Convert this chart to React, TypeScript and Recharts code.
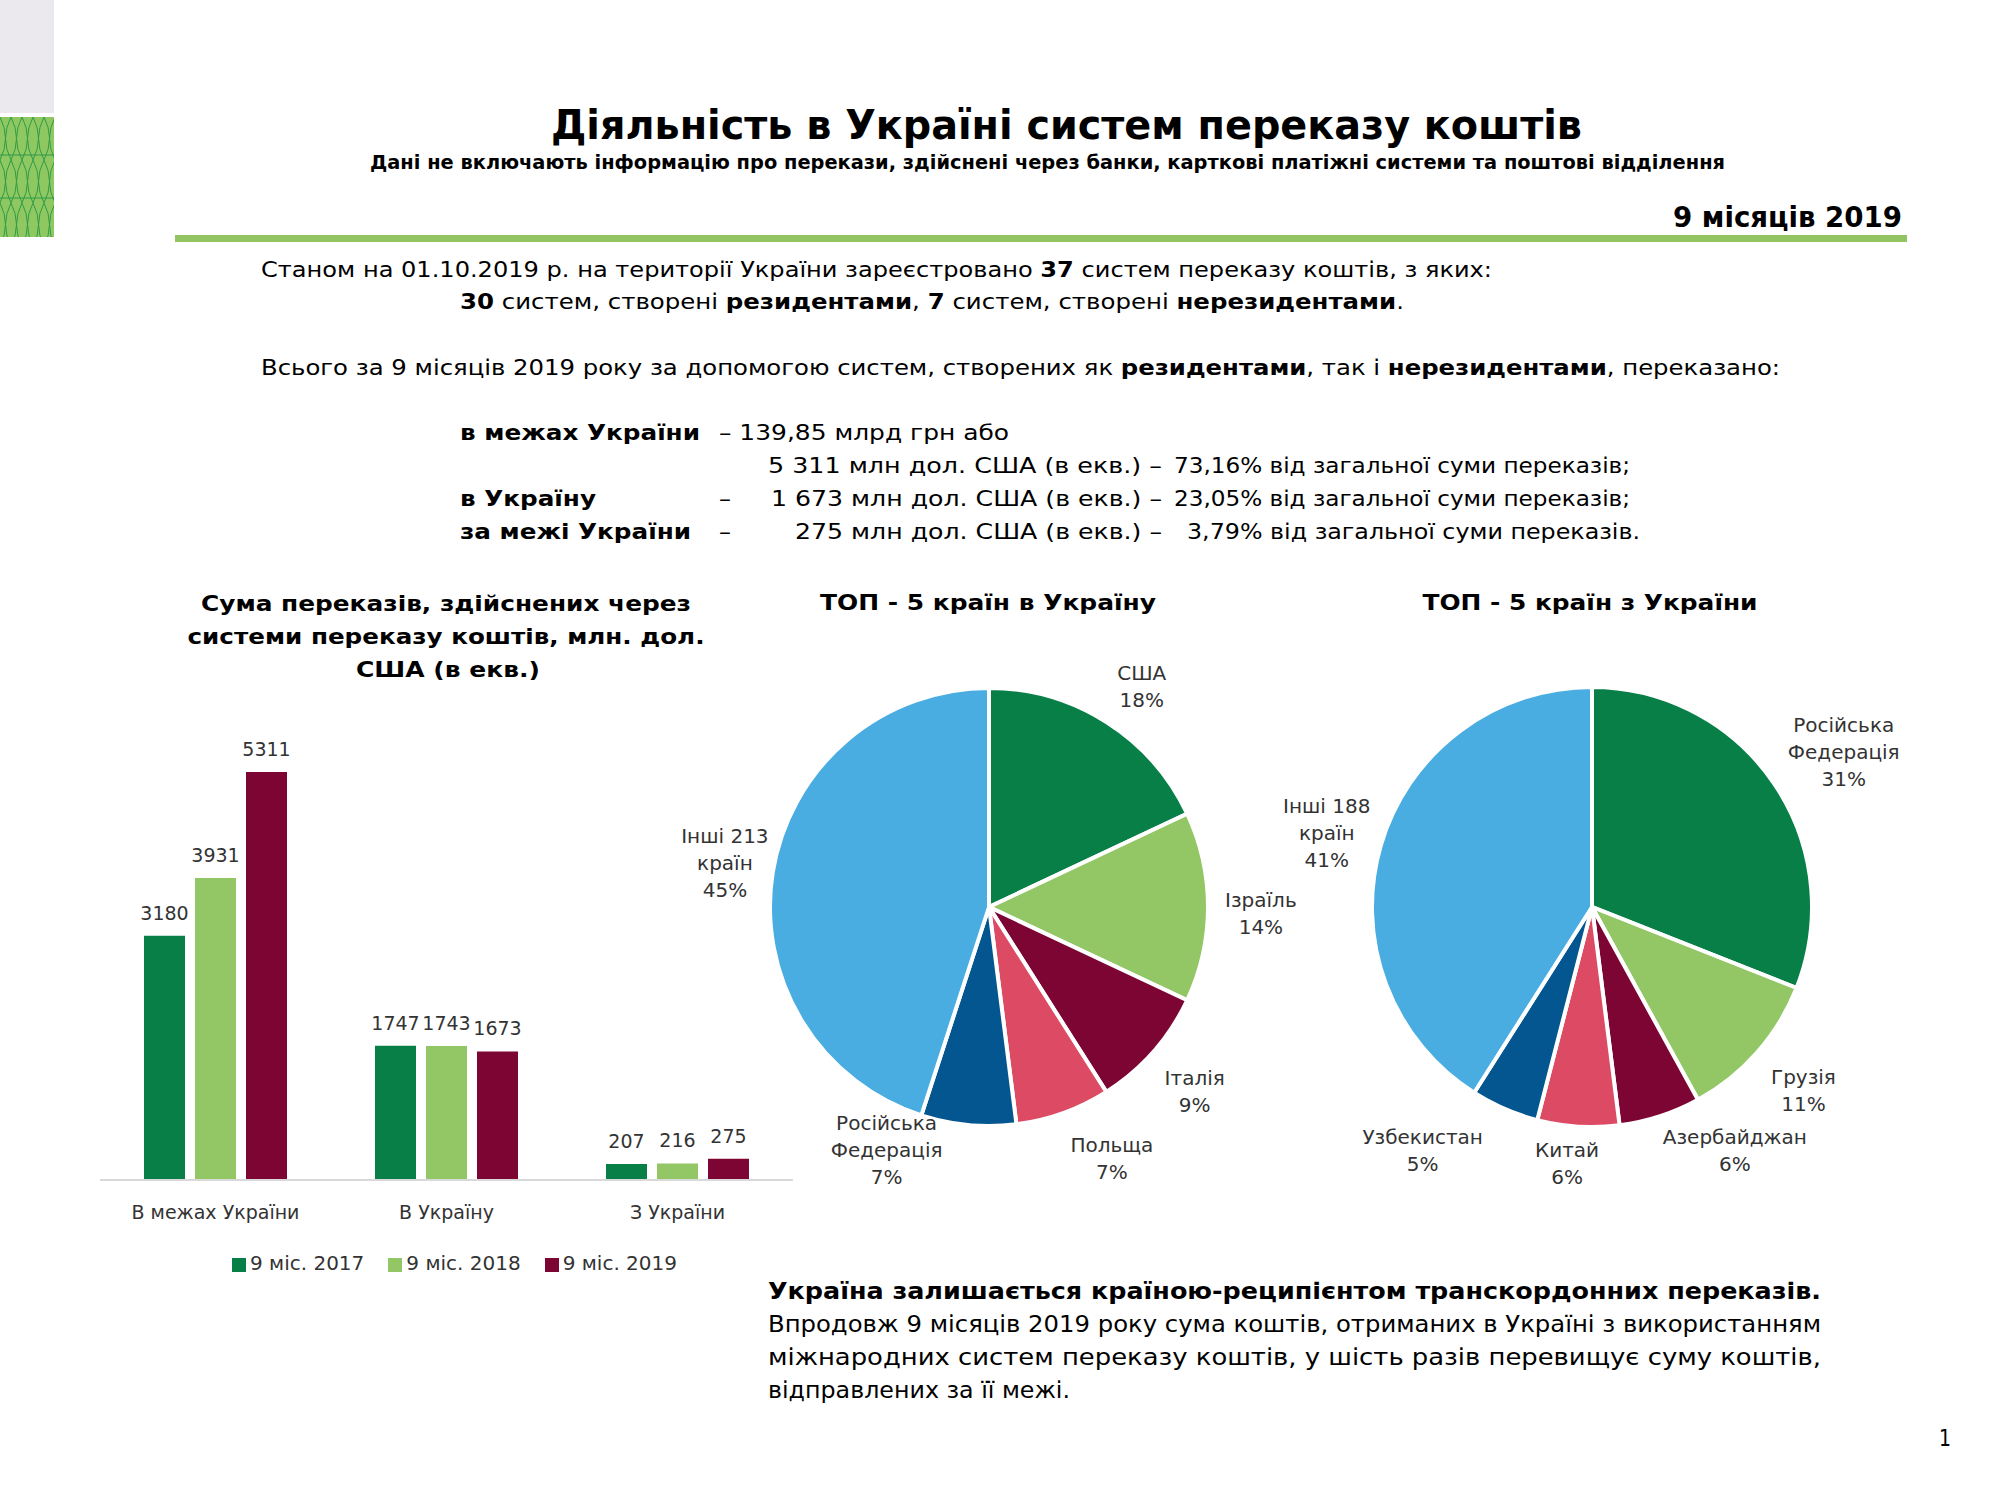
import { BarChart, Bar, XAxis, YAxis, Legend, LabelList, PieChart, Pie, Cell } from 'recharts'

// bar chart: transfers, mln USD (equiv.)
const categories = ['В межах України', 'В Україну', 'З України']
const seriesNames = ['9 міс. 2017', '9 міс. 2018', '9 міс. 2019']
const values2017 = [3180, 1747, 207]
const values2018 = [3931, 1743, 216]
const values2019 = [5311, 1673, 275]

// top-5 countries into Ukraine, %
const inCountries = ['США', 'Ізраїль', 'Італія', 'Польща', 'Російська\nФедерація', 'Інші 213\nкраїн']
const inShares = [18, 14, 9, 7, 7, 45]

// top-5 countries out of Ukraine, %
const outCountries = ['Російська\nФедерація', 'Грузія', 'Азербайджан', 'Китай', 'Узбекистан', 'Інші 188\nкраїн']
const outShares = [31, 11, 6, 6, 5, 41]

const DARK_GREEN = '#087f47'
const LIGHT_GREEN = '#93c664'
const MAROON = '#7c0533'
const PINK = '#dc4a63'
const DARK_BLUE = '#03568f'
const LIGHT_BLUE = '#49ade2'
const barColors = [DARK_GREEN, LIGHT_GREEN, MAROON]
const sliceColors = [DARK_GREEN, LIGHT_GREEN, MAROON, PINK, DARK_BLUE, LIGHT_BLUE]

const FONT = '"DejaVu Sans", sans-serif'
const LABEL = '#333333'
const PIE_FONT = 20
const PIE_LINE = 27
const RAD = Math.PI / 180

const barData = categories.map((c, i) => ({
  category: c,
  y2017: values2017[i],
  y2018: values2018[i],
  y2019: values2019[i],
}))
const inData = inCountries.map((c, i) => ({ country: c, share: inShares[i] }))
const outData = outCountries.map((c, i) => ({ country: c, share: outShares[i] }))

// small label shifts, like Excel's best-fit placement
const inNudge: [number, number][] = [[15, 5], [-8, 6], [0, 8], [30, 0], [-75, -36], [18, 0]]
const outNudge: [number, number][] = [[10, 3], [5, 6], [49, -12], [-8, -11], [-51, -3], [10, 4]]

function pieLabel(nudge: [number, number][]) {
  return (props: any) => {
    const { cx, cy, midAngle, outerRadius, name, value, index } = props
    const lines = [...String(name).split('\n'), `${value}%`]
    const cos = Math.cos(-midAngle * RAD)
    const sin = Math.sin(-midAngle * RAD)
    const w = Math.max(...lines.map((l) => l.length)) * 0.57 * PIE_FONT
    const h = lines.length * PIE_LINE
    const r = outerRadius + 21
    const [nx, ny] = nudge[index] ?? [0, 0]
    const x = cx + r * cos + (cos * w) / 2 + nx
    const y = cy + r * sin + (sin * h) / 2 + ny
    const top = y - h / 2
    return (
      <text x={x} y={top} fill={LABEL} fontSize={PIE_FONT} textAnchor="middle">
        {lines.map((l, i) => (
          <tspan key={i} x={x} y={top + PIE_LINE * (i + 0.5) + PIE_FONT * 0.36}>
            {l}
          </tspan>
        ))}
      </text>
    )
  }
}

function Txt({ x, y, w, size, bold, anchor, children }: any) {
  return (
    <text
      x={x}
      y={y}
      fontSize={size}
      fontWeight={bold ? 'bold' : 'normal'}
      textAnchor={anchor ?? 'start'}
      textLength={w}
      lengthAdjust="spacingAndGlyphs"
      fill="#000"
    >
      {children}
    </text>
  )
}

function Page() {
  return (
    <svg width={2000} height={1500} style={{ position: 'absolute', left: 0, top: 0, fontFamily: FONT }}>
      <defs>
        <pattern id="lattice" x={0} y={117} width={11} height={43} patternUnits="userSpaceOnUse">
          <path d="M0,0 Q11,21.5 0,43 M11,0 Q0,21.5 11,43" fill="none" stroke="#2e9a48" strokeWidth={1} />
        </pattern>
      </defs>
      <rect x={0} y={0} width={54} height={113} fill="#ebe8ee" />
      <rect x={0} y={117} width={54} height={120} fill="#8fc760" />
      <rect x={0} y={117} width={54} height={120} fill="url(#lattice)" />
      <line x1={0} x2={54} y1={155} y2={155} stroke="#2e9a48" />
      <line x1={0} x2={54} y1={198} y2={198} stroke="#2e9a48" />

      <Txt x={551} y={139} w={1031} size={40} bold>Діяльність в Україні систем переказу коштів</Txt>
      <Txt x={370} y={169} w={1355} size={19} bold>
        Дані не включають інформацію про перекази, здійснені через банки, карткові платіжні системи та поштові відділення
      </Txt>
      <Txt x={1673} y={227} w={229} size={28} bold>9 місяців 2019</Txt>
      <rect x={175} y={235} width={1732} height={7} fill="#92c562" />

      <Txt x={261} y={277} w={1231} size={21}>
        Станом на 01.10.2019 р. на території України зареєстровано <tspan fontWeight="bold">37</tspan> систем переказу коштів, з яких:
      </Txt>
      <Txt x={460} y={309} w={944} size={21}>
        <tspan fontWeight="bold">30</tspan> систем, створені <tspan fontWeight="bold">резидентами</tspan>, <tspan fontWeight="bold">7</tspan> систем, створені <tspan fontWeight="bold">нерезидентами</tspan>.
      </Txt>
      <Txt x={261} y={375} w={1519} size={21}>
        Всього за 9 місяців 2019 року за допомогою систем, створених як <tspan fontWeight="bold">резидентами</tspan>, так і <tspan fontWeight="bold">нерезидентами</tspan>, переказано:
      </Txt>

      <Txt x={460} y={440} w={240} size={21} bold>в межах України</Txt>
      <Txt x={719} y={440} w={290} size={21}>– 139,85 млрд грн або</Txt>
      <Txt x={768} y={473} w={394} size={21}>5 311 млн дол. США (в екв.) –</Txt>
      <Txt x={1174} y={473} w={456} size={21}>73,16% від загальної суми переказів;</Txt>
      <Txt x={460} y={506} w={136} size={21} bold>в Україну</Txt>
      <Txt x={719} y={506} w={12} size={21}>–</Txt>
      <Txt x={771} y={506} w={391} size={21}>1 673 млн дол. США (в екв.) –</Txt>
      <Txt x={1174} y={506} w={456} size={21}>23,05% від загальної суми переказів;</Txt>
      <Txt x={460} y={539} w={231} size={21} bold>за межі України</Txt>
      <Txt x={719} y={539} w={12} size={21}>–</Txt>
      <Txt x={795} y={539} w={367} size={21}>275 млн дол. США (в екв.) –</Txt>
      <Txt x={1187} y={539} w={453} size={21}>3,79% від загальної суми переказів.</Txt>

      <Txt x={446} y={611} w={490} size={22} bold anchor="middle">Сума переказів, здійснених через</Txt>
      <Txt x={446} y={644} w={517} size={22} bold anchor="middle">системи переказу коштів, млн. дол.</Txt>
      <Txt x={448} y={677} w={184} size={22} bold anchor="middle">США (в екв.)</Txt>
      <Txt x={988} y={610} w={336} size={22} bold anchor="middle">ТОП - 5 країн в Україну</Txt>
      <Txt x={1590} y={610} w={335} size={22} bold anchor="middle">ТОП - 5 країн з України</Txt>

      <Txt x={768} y={1299} w={1053} size={23} bold>Україна залишається країною-реципієнтом транскордонних переказів.</Txt>
      <Txt x={768} y={1332} w={1053} size={23}>Впродовж 9 місяців 2019 року сума коштів, отриманих в Україні з використанням</Txt>
      <Txt x={768} y={1365} w={1053} size={23}>міжнародних систем переказу коштів, у шість разів перевищує суму коштів,</Txt>
      <Txt x={768} y={1398} w={302} size={23}>відправлених за її межі.</Txt>
      <Txt x={1939} y={1446} w={12} size={23}>1</Txt>
    </svg>
  )
}

export default function App() {
  return (
    <div style={{ position: 'absolute', left: 0, top: 0, width: 2000, height: 1500, background: '#fff', fontFamily: FONT }}>
      <Page />
      <div style={{ position: 'absolute', left: 80, top: 680 }}>
        <BarChart
          width={740}
          height={620}
          data={barData}
          margin={{ top: 39, right: 27, left: 20, bottom: 25 }}
          barSize={41}
          barGap={10}
        >
          <XAxis
            dataKey="category"
            height={71}
            axisLine={{ stroke: '#d9d9d9', strokeWidth: 2 }}
            tickLine={false}
            tickSize={6}
            tickMargin={20}
            tick={{ fill: LABEL, fontSize: 19 }}
          />
          <YAxis hide domain={[0, 6000]} />
          <Legend
            verticalAlign="bottom"
            iconType="square"
            iconSize={14}
            wrapperStyle={{ fontSize: 20, left: 40 }}
            formatter={(v) => <span style={{ color: LABEL, marginRight: 14 }}>{v}</span>}
          />
          {['y2017', 'y2018', 'y2019'].map((key, i) => (
            <Bar key={key} dataKey={key} name={seriesNames[i]} fill={barColors[i]} isAnimationActive={false}>
              <LabelList dataKey={key} position="top" offset={16} fill={LABEL} fontSize={19} />
            </Bar>
          ))}
        </BarChart>
      </div>
      <div style={{ position: 'absolute', left: 640, top: 640 }}>
        <PieChart width={680} height={580}>
          <Pie
            data={inData}
            dataKey="share"
            nameKey="country"
            cx={344}
            cy={262}
            outerRadius={219}
            startAngle={90}
            endAngle={-270}
            stroke="#fff"
            strokeWidth={4}
            labelLine={false}
            label={pieLabel(inNudge)}
            isAnimationActive={false}
          >
            {inData.map((d, i) => (
              <Cell key={d.country} fill={sliceColors[i]} />
            ))}
          </Pie>
        </PieChart>
      </div>
      <div style={{ position: 'absolute', left: 1250, top: 640 }}>
        <PieChart width={700} height={580}>
          <Pie
            data={outData}
            dataKey="share"
            nameKey="country"
            cx={337}
            cy={262}
            outerRadius={220}
            startAngle={90}
            endAngle={-270}
            stroke="#fff"
            strokeWidth={4}
            labelLine={false}
            label={pieLabel(outNudge)}
            isAnimationActive={false}
          >
            {outData.map((d, i) => (
              <Cell key={d.country} fill={sliceColors[i]} />
            ))}
          </Pie>
        </PieChart>
      </div>
    </div>
  )
}
